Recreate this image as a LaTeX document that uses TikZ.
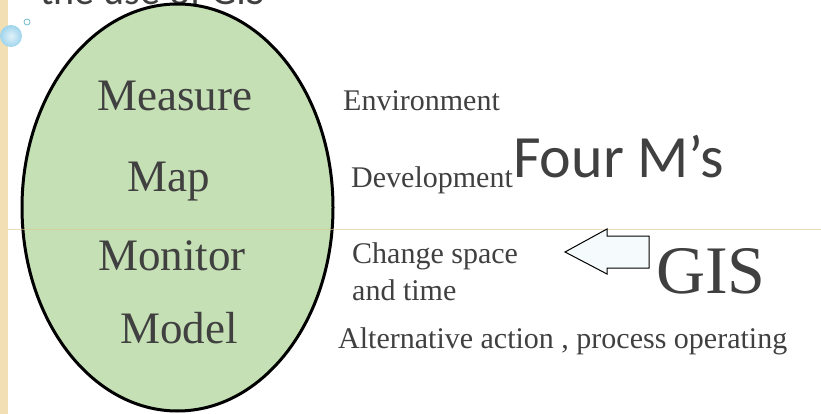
\documentclass[tikz,border=0pt]{standalone}
\usepackage{fontspec}
\setmainfont{Liberation Serif}
\newfontfamily\calfont{Carlito}
\usepackage{xcolor}
\definecolor{txtgray}{HTML}{404040}
\definecolor{mgreen}{HTML}{C5E0B4}
\definecolor{stripbeige}{HTML}{F2DFB4}
\definecolor{ruleline}{HTML}{DCC890}
\definecolor{bubble}{HTML}{9ED4EC}
\definecolor{arrowfill}{HTML}{F5FBFD}
\usetikzlibrary{calc,positioning}
\tikzset{
  mword/.style={font=\fontsize{45}{54}\selectfont, text=txtgray, anchor=base west, inner sep=0pt},
  dword/.style={font=\fontsize{30}{36}\selectfont, text=txtgray, anchor=base west, inner sep=0pt}
}

\begin{document}
\begin{tikzpicture}[x=1pt,y=-1pt]
\useasboundingbox (0,0) rectangle (821,414);
\clip (0,0) rectangle (821,414);
\fill[white] (0,0) rectangle (821,414);
\fill[stripbeige] (0,0) rectangle (8,414);
\node[anchor=base west, inner sep=0pt, text=txtgray, font=\calfont\fontsize{40}{48}\selectfont] (title) at (40,4.5) {the use of GIS};
\shade[inner color=bubble!30, outer color=bubble] (11,36) circle (11pt);
\draw[bubble!70!teal, line width=0.8pt] (27,22) circle (3pt);
\filldraw[fill=mgreen, draw=black, line width=3pt] (177.5,207.5) ellipse [x radius=155.5pt, y radius=203.5pt];
\draw[ruleline, opacity=0.6, line width=0.7pt] (8,229) -- (821,229);
\node[mword] (measure) at (97,111) {Measure};
\node[mword] (map) at (127,192) {Map};
\node[mword] (monitor) at (98,270) {Monitor};
\node[mword] (model) at (120,343) {Model};
\node[dword] (environment) at (343,111) {Environment};
\node[dword] (development) at (351,188) {Development};
\node[dword] (change) at (352,263) {Change space};
\node[dword] (andtime) at (352,300) {and time};
\node[dword] (alternative) at (338,348) {Alternative action , process operating};
\node[anchor=base west, inner sep=0pt, text=txtgray, font=\calfont\fontsize{60}{72}\selectfont] (fourms) at (513,178) {Four M’s};
\node[anchor=base west, inner sep=0pt, text=txtgray, font=\fontsize{68}{80}\selectfont] (gis) at (656,293) {GIS};
\filldraw[fill=arrowfill, draw=black, line width=1pt, line join=miter] (565,252) -- (607,229) -- (607,236) -- (649,236) -- (649,268) -- (607,268) -- (607,274) -- cycle;
\end{tikzpicture}
\end{document}
